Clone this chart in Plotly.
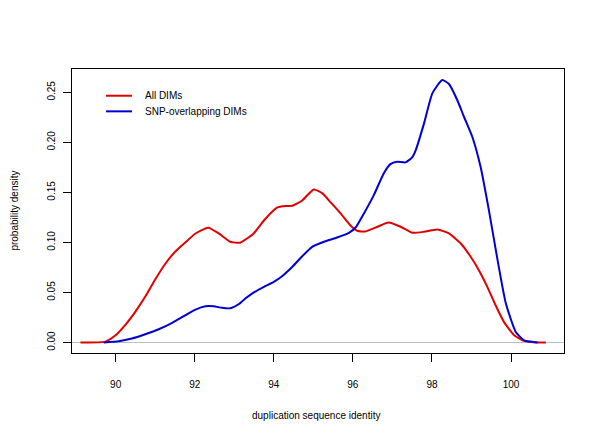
import plotly.graph_objects as go

# ---- data ----
all_x = [89.11, 89.74, 89.99, 90.25, 90.50, 90.75, 91.00, 91.26, 91.51, 91.76, 92.02, 92.34,
         92.61, 92.90, 93.15, 93.49, 93.75, 94.09, 94.30, 94.47, 94.72, 95.01, 95.23, 95.44,
         95.69, 95.94, 96.11, 96.32, 96.62, 96.90, 97.21, 97.50, 97.80, 98.14, 98.43, 98.73,
         98.98, 99.19, 99.40, 99.61, 99.82, 100.08, 100.33, 100.58, 100.88]
all_y = [0.0, 0.001, 0.007, 0.018, 0.031, 0.046, 0.063, 0.079, 0.091, 0.100, 0.109, 0.1147,
         0.109, 0.1007, 0.0998, 0.109, 0.122, 0.135, 0.1365, 0.1366, 0.142, 0.153, 0.149, 0.140,
         0.129, 0.117, 0.1117, 0.111, 0.1157, 0.120, 0.1157, 0.1097, 0.1107, 0.113, 0.109, 0.099,
         0.0857, 0.072, 0.0557, 0.0373, 0.0207, 0.0073, 0.0017, 0.0003, 0.0]

snp_x = [89.70, 90.08, 90.41, 90.75, 91.09, 91.43, 91.76, 92.02, 92.27, 92.48, 92.69, 92.90,
         93.11, 93.28, 93.45, 93.75, 94.00, 94.21, 94.47, 94.72, 94.97, 95.27, 95.60, 95.90,
         96.07, 96.28, 96.53, 96.78, 96.95, 97.12, 97.33, 97.50, 97.59, 97.80, 98.01, 98.26,
         98.43, 98.64, 98.81, 99.02, 99.23, 99.44, 99.66, 99.87, 100.12, 100.33, 100.50, 100.67]
snp_y = [0.0, 0.0013, 0.004, 0.0083, 0.0133, 0.0197, 0.0273, 0.033, 0.0363, 0.0363, 0.0347, 0.0343,
         0.0383, 0.044, 0.049, 0.0557, 0.0607, 0.0663, 0.0757, 0.0863, 0.0957, 0.1007, 0.105, 0.1097,
         0.115, 0.129, 0.1473, 0.169, 0.1783, 0.1807, 0.180, 0.185, 0.1923, 0.219, 0.249, 0.2623,
         0.2583, 0.2423, 0.2256, 0.2056, 0.1756, 0.1323, 0.0823, 0.039, 0.0106, 0.0023, 0.001, 0.0]

x_ticks = [90, 92, 94, 96, 98, 100]
y_ticks = [0.00, 0.05, 0.10, 0.15, 0.20, 0.25]
series_names = ["All DIMs", "SNP-overlapping DIMs"]
series_colors = ["#e00000", "#0000d0"]

FONT = "Liberation Sans, Arial, sans-serif"

fig = go.Figure()
for xs, ys, name, col in [(all_x, all_y, series_names[0], series_colors[0]),
                          (snp_x, snp_y, series_names[1], series_colors[1])]:
    fig.add_trace(go.Scatter(x=xs, y=ys, mode="lines", name=name, showlegend=False,
                             line=dict(color=col, width=2, shape="spline", smoothing=0.5)))

# page has an 8px body margin
OFF = 8
W, H = 600, 440
L, T = 64, 61
pw, ph = 491.6, 283.7
R, B = W - L - pw, H - T - ph


def px_x(p):
    return (p - OFF - L) / pw


def px_y(p):
    return 1 - (p - OFF - T) / ph


shapes = []
annotations = []
for i, (name, col) in enumerate(zip(series_names, series_colors)):
    yy = 95.7 + i * 15.6
    shapes.append(dict(type="line", xref="paper", yref="paper",
                       x0=px_x(106), x1=px_x(132), y0=px_y(yy), y1=px_y(yy),
                       line=dict(color=col, width=2)))
    annotations.append(dict(text=name, xref="paper", yref="paper",
                            x=px_x(142.5), y=px_y(yy), xanchor="left", yanchor="middle",
                            showarrow=False, font=dict(size=10)))

annotations += [
    dict(text="duplication sequence identity", xref="paper", yref="paper",
         x=px_x(316), y=px_y(415), xanchor="center", yanchor="middle",
         showarrow=False, font=dict(size=10)),
    dict(text="probability density", xref="paper", yref="paper",
         x=px_x(15), y=px_y(210.5), xanchor="center", yanchor="middle",
         textangle=-90, showarrow=False, font=dict(size=10)),
]

fig.update_layout(
    width=W, height=H,
    margin=dict(l=L, r=R, t=T, b=B, pad=0),
    paper_bgcolor="white", plot_bgcolor="white",
    font=dict(family=FONT, size=10, color="#000"),
    showlegend=False,
    shapes=shapes,
    annotations=annotations,
    xaxis=dict(range=[88.896, 101.34], tickvals=x_ticks, ticktext=[str(v) for v in x_ticks],
               showgrid=False, zeroline=False, showline=True, mirror=True,
               linecolor="black", linewidth=1, ticks="outside", ticklen=8,
               tickcolor="black", tickfont=dict(size=10), ticklabelstandoff=14),
    yaxis=dict(range=[-0.0104, 0.2733], tickvals=y_ticks,
               ticktext=[f"{v:.2f}" for v in y_ticks], tickangle=-90,
               showgrid=False, zeroline=True, zerolinecolor="#bebebe", zerolinewidth=1,
               showline=True, mirror=True, linecolor="black", linewidth=1,
               ticks="outside", ticklen=8, tickcolor="black", tickfont=dict(size=10),
               ticklabelstandoff=4),
)

fig.write_html("out.html")
